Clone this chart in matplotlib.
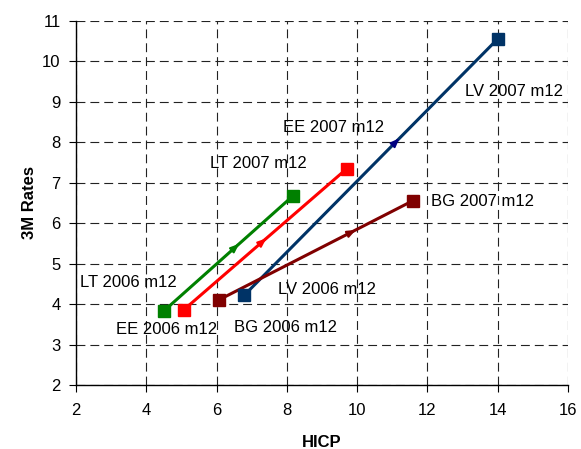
import matplotlib.pyplot as plt

plt.rcParams['font.family'] = ['Liberation Sans', 'DejaVu Sans']

# country paths: 2006 m12 -> 2007 m12 (HICP, 3M rate)
countries = ["LT", "EE", "LV", "BG"]
hicp_start = [4.50, 5.07, 6.79, 6.06]
rate_start = [3.83, 3.86, 4.22, 4.10]
hicp_end = [8.17, 9.70, 14.00, 11.58]
rate_end = [6.67, 7.34, 10.55, 6.55]
colors = ["#008000", "#ff0000", "#003366", "#800000"]
arrow_colors = ["#008000", "#ff0000", "#000080", "#800000"]
arrow_pos = [0.60, 0.52, 0.62, 0.72]

# label positions (text centres)
lab_start = [(3.49, 4.53), (4.58, 3.38), (9.14, 4.35), (7.97, 3.41)]
lab_end = [(7.18, 7.48), (9.32, 8.35), (14.46, 9.24), (13.58, 6.53)]

fig = plt.figure(figsize=(5.81, 4.49), dpi=100)
ax = fig.add_axes([0.1308, 0.1425, 0.8468, 0.8114])

for i, c in enumerate(countries):
    xs = [hicp_start[i], hicp_end[i]]
    ys = [rate_start[i], rate_end[i]]
    ax.plot(xs, ys, color=colors[i], lw=2.2, zorder=3)
    ax.plot(xs, ys, ls="none", marker="s", ms=9, color=colors[i], zorder=4)
    # small direction arrow on the line
    f = arrow_pos[i]
    xa = xs[0] + f * (xs[1] - xs[0])
    ya = ys[0] + f * (ys[1] - ys[0])
    xb = xs[0] + (f - 0.04) * (xs[1] - xs[0])
    yb = ys[0] + (f - 0.04) * (ys[1] - ys[0])
    ax.annotate("", xy=(xa, ya), xytext=(xb, yb),
                arrowprops=dict(arrowstyle="-|>,head_length=0.5,head_width=0.2",
                                color=arrow_colors[i], lw=1.5), zorder=5)
    ax.text(lab_start[i][0], lab_start[i][1], c + " 2006 m12",
            ha="center", va="center", fontsize=12, zorder=6)
    ax.text(lab_end[i][0], lab_end[i][1], c + " 2007 m12",
            ha="center", va="center", fontsize=12, zorder=6)

ax.set_xlim(2, 16)
ax.set_ylim(2, 11)
ax.set_xticks(range(2, 17, 2))
ax.set_yticks(range(2, 12))
ax.grid(True, color="#222222", ls=(0, (8, 4.5)), lw=0.8, zorder=1)
for s in ["top", "right"]:
    ax.spines[s].set_visible(False)
for s in ["left", "bottom"]:
    ax.spines[s].set_linewidth(1.0)
ax.tick_params(labelsize=12, length=5, direction="out")
ax.tick_params(axis="x", pad=8)
ax.tick_params(axis="y", pad=6)
ax.set_xlabel("HICP", fontsize=12, fontweight="bold", labelpad=12)
ax.set_ylabel("3M Rates", fontsize=12, fontweight="bold", labelpad=4)

fig.savefig("out.png", dpi=100)
